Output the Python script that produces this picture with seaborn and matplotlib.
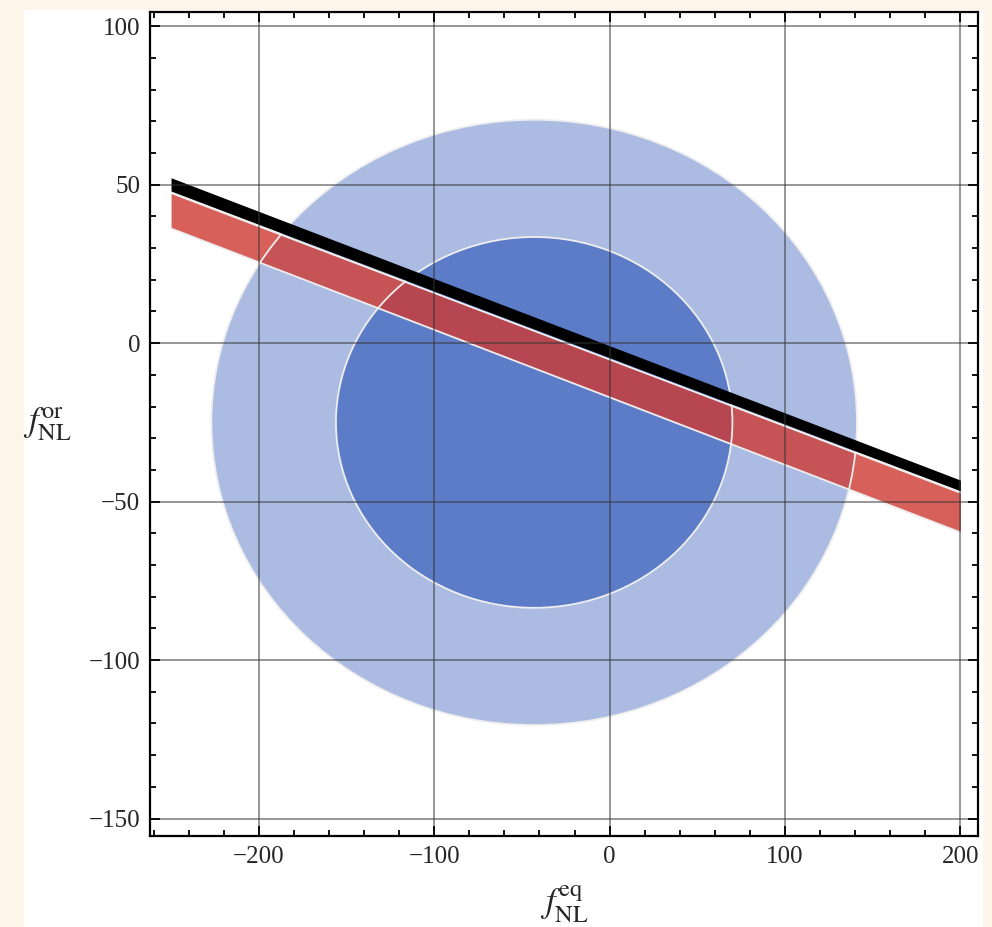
import numpy as np
import seaborn as sns
import matplotlib.pyplot as plt
from matplotlib.patches import Ellipse, Rectangle

# --- data ---
band_x = [-250, 200]
black_top = [52.2, -43.2]
black_bot = [48.0, -46.6]
red_top = [47.4, -47.2]
red_bot = [36.2, -59.7]

ell_center = (-43, -25)
outer_radii = (184, 95.5)
inner_radii = (113, 58.5)

x_ticks = [-200, -100, 0, 100, 200]
y_ticks = [-150, -100, -50, 0, 50, 100]

sns.set_style('ticks')
plt.rcParams['font.family'] = ['Liberation Serif', 'DejaVu Serif']
plt.rcParams['mathtext.fontset'] = 'stix'

fig = plt.figure(figsize=(9.92, 9.27), dpi=100, facecolor='#FDF5EA')
# white panel behind the plot
fig.patches.append(Rectangle((24 / 992, 0), (982 - 24) / 992, (927 - 10) / 927,
                             transform=fig.transFigure, color='white', zorder=-10))
ax = fig.add_axes([150 / 992, (927 - 836) / 927, (978 - 150) / 992, (836 - 12) / 927])
ax.set_facecolor('white')

# --- ellipses ---
outer = Ellipse(ell_center, 2 * outer_radii[0], 2 * outer_radii[1], facecolor='#ABBBE2',
                edgecolor='none', zorder=1)
inner = Ellipse(ell_center, 2 * inner_radii[0], 2 * inner_radii[1], facecolor='#5C7CC7',
                edgecolor='none', zorder=1.1)
ax.add_patch(outer)
ax.add_patch(inner)

# --- red band, shaded differently inside each contour ---
ax.fill_between(band_x, red_bot, red_top, color='#D8605A', lw=0, zorder=1.2)
mid = ax.fill_between(band_x, red_bot, red_top, color='#C65457', lw=0, zorder=1.3)
mid.set_clip_path(outer)
core = ax.fill_between(band_x, red_bot, red_top, color='#B6464F', lw=0, zorder=1.4)
core.set_clip_path(inner)

# white mesh edges
for r in (outer_radii, inner_radii):
    ax.add_patch(Ellipse(ell_center, 2 * r[0], 2 * r[1], facecolor='none',
                         edgecolor='#EEEEEE', lw=1.3, zorder=1.5))
for edge in (red_bot, red_top):
    sns.lineplot(x=band_x, y=edge, ax=ax, color='#EEEEEE', lw=1.3, zorder=1.6)

# black band
ax.fill_between(band_x, black_bot, black_top, color='black', lw=0, zorder=1.7)

ax.set_xlim(-262, 210)
ax.set_ylim(-155.5, 104.5)
ax.set_xticks(x_ticks)
ax.set_yticks(y_ticks)
ax.set_xticks(np.arange(-260, 211, 20), minor=True)
ax.set_yticks(np.arange(-150, 101, 10), minor=True)
ax.tick_params(which='both', direction='in', top=True, right=True, labelsize=18,
               width=1.3, color='black')
ax.tick_params(which='major', length=7, pad=7)
ax.tick_params(which='minor', length=4)
ax.grid(True, which='major', color='#333333', alpha=0.55, lw=1.3, zorder=2.5)
ax.set_axisbelow(False)
for s in ax.spines.values():
    s.set_linewidth(1.6)
    s.set_color('black')

ax.set_xlabel(r'$f^{\mathrm{eq}}_{\mathrm{NL}}$', fontsize=25)
ax.set_ylabel(r'$f^{\mathrm{or}}_{\mathrm{NL}}$', fontsize=25, rotation=0, va='center')
ax.xaxis.set_label_coords(0.5, -0.058)
ax.yaxis.set_label_coords(-0.124, 0.5)

plt.savefig('out.png', dpi=100, facecolor=fig.get_facecolor())
